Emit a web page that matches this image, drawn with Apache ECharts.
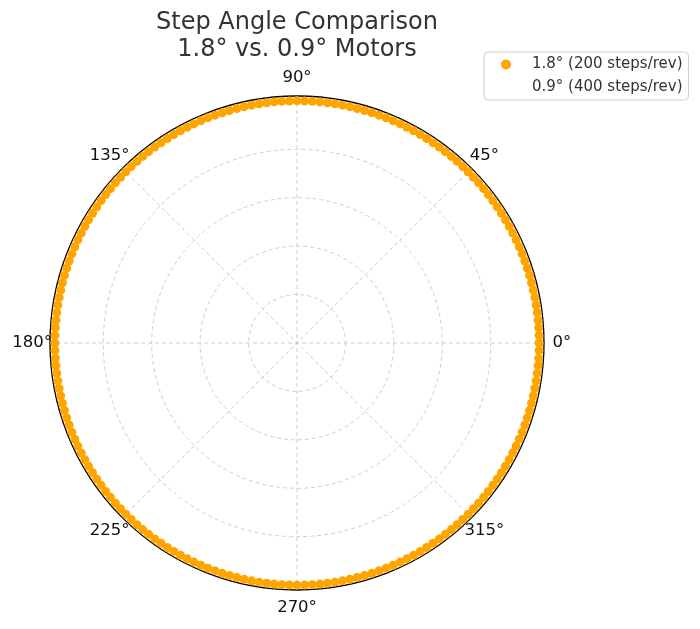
<!DOCTYPE html>
<html>
<head>
<meta charset="utf-8">
<script src="https://cdn.jsdelivr.net/npm/echarts@6/dist/echarts.min.js"></script>
<style>html,body{margin:0;padding:0;background:#fff;}#c{width:700px;height:629px;}</style>
</head>
<body>
<div id="c"></div>
<script>
const titleLines = ['Step Angle Comparison', '1.8° vs. 0.9° Motors'];
const seriesNames = ['1.8° (200 steps/rev)', '0.9° (400 steps/rev)'];
const stepsPerRev = [200, 400];
const stepRadius = [1, 1];
const angleTicks = [0, 45, 90, 135, 180, 225, 270, 315];
const radiusTicks = [0.2, 0.4, 0.6, 0.8, 1.0];

function stepPoints(steps, r) {
  const pts = [];
  for (let i = 0; i < steps; i++) pts.push([r, i * 360 / steps]);
  return pts;
}

const RADIUS_MAX = 1.02;
const LABEL_R = 1.094;

const chart = echarts.init(document.getElementById('c'), null, {renderer: 'canvas'});
chart.setOption({
  animation: false,
  backgroundColor: '#fff',
  title: {
    text: titleLines.join('\n'),
    left: 292, top: 4, textAlign: 'center',
    textStyle: {fontFamily: 'DejaVu Sans', fontSize: 24, fontWeight: 'normal', color: '#333', lineHeight: 27}
  },
  legend: {
    orient: 'vertical', left: 484, top: 52,
    backgroundColor: '#fff',
    borderColor: '#ccc', borderWidth: 1, borderRadius: 4,
    padding: [5, 6, 5, 4],
    itemWidth: 36, itemHeight: 10, itemGap: 8,
    textStyle: {fontFamily: 'DejaVu Sans', fontSize: 15, lineHeight: 15, color: '#333', padding: [0, 0, 0, 3]},
    data: [
      {name: seriesNames[0], icon: 'circle'},
      {name: seriesNames[1], icon: 'none'}
    ]
  },
  polar: {center: [297, 343], radius: 247},
  angleAxis: {
    type: 'value', min: 0, max: 360, interval: 45,
    startAngle: 0, clockwise: false,
    axisLine: {show: true, lineStyle: {color: '#000', width: 1.3}},
    axisTick: {show: false},
    axisLabel: {show: false},
    splitLine: {show: true, lineStyle: {color: '#c8c8c8', type: [4, 3], width: 0.9}}
  },
  radiusAxis: {
    type: 'value', min: 0, max: RADIUS_MAX, interval: 0.2,
    axisLine: {show: false}, axisTick: {show: false}, axisLabel: {show: false},
    splitLine: {show: true, lineStyle: {color: '#c8c8c8', type: [4, 3], width: 0.9}}
  },
  series: [
    {
      name: seriesNames[0], type: 'scatter', coordinateSystem: 'polar',
      symbol: 'circle', symbolSize: 9,
      itemStyle: {color: '#FFA500', opacity: 1},
      data: stepPoints(stepsPerRev[0], stepRadius[0]), z: 3
    },
    {
      name: seriesNames[1], type: 'scatter', coordinateSystem: 'polar',
      symbol: 'circle', symbolSize: 5,
      itemStyle: {color: '#1f77b4', opacity: 0},
      data: stepPoints(stepsPerRev[1], stepRadius[1]), z: 2
    },
    {
      name: 'angleLabels', type: 'scatter', coordinateSystem: 'polar',
      symbol: 'circle', symbolSize: 1, clip: false, silent: true,
      itemStyle: {color: 'rgba(0,0,0,0)'},
      label: {
        show: true, position: 'inside', align: 'center', verticalAlign: 'middle',
        fontFamily: 'DejaVu Sans', fontSize: 16.5, color: '#111',
        textBorderWidth: 0, textBorderColor: 'transparent', opacity: 1,
        formatter: p => p.value[1] + '°'
      },
      data: angleTicks.map(a => [LABEL_R, a]), z: 4
    }
  ]
});
</script>
</body>
</html>
